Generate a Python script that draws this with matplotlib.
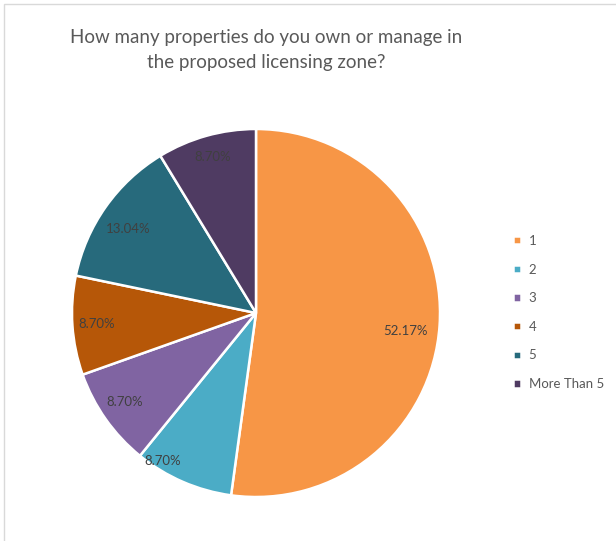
import numpy as np
import matplotlib.pyplot as plt
from matplotlib.patches import Rectangle

labels = ["1", "2", "3", "4", "5", "More Than 5"]
shares = [52.17, 8.70, 8.70, 8.70, 13.04, 8.70]
colors = ["#F79646", "#4BACC6", "#8064A2", "#B65708", "#276A7C", "#4F3B62"]

plt.rcParams["font.family"] = ["Lato", "DejaVu Sans"]

fig = plt.figure(figsize=(6.16, 5.41), dpi=100)

# Light chart-area border (runs off the right and bottom edges)
fig.patches.append(Rectangle((4 / 616, -0.01), 1.0, 1 - 4 / 541 + 0.01,
                             transform=fig.transFigure, fill=False,
                             edgecolor="#D9D9D9", linewidth=1))

ax = fig.add_axes([72 / 616, 44 / 541, 368 / 616, 368 / 541])
wedges, texts = ax.pie(shares, colors=colors, startangle=90, counterclock=False,
                       wedgeprops=dict(edgecolor="white", linewidth=1.8))
ax.set_xlim(-1, 1)
ax.set_ylim(-1, 1)

# Percentage labels inside each slice: radial distance and clockwise nudge (deg)
dists = [0.82, 0.95, 0.86, 0.87, 0.83, 0.88]
nudge = [3, 9, 1, 0, -2, 0]
for w, d, n, v in zip(wedges, dists, nudge, shares):
    mid = np.deg2rad((w.theta1 + w.theta2) / 2 - n)
    ax.text(d * np.cos(mid), d * np.sin(mid), f"{v:.2f}%",
            ha="center", va="center", fontsize=9.5, color="#404040")

fig.text(266 / 616, 1 - 50 / 541,
         "How many properties do you own or manage in\nthe proposed licensing zone?",
         ha="center", va="center", fontsize=13.5, color="#595959", linespacing=1.6)

leg = fig.legend(wedges, labels, loc="upper left", bbox_to_anchor=(501 / 616, 1 - 223 / 541),
                 frameon=False, fontsize=9.5, labelcolor="#595959",
                 handlelength=0.6, handleheight=0.6, handletextpad=0.6,
                 labelspacing=1.26)

fig.savefig("out.png", dpi=100)
